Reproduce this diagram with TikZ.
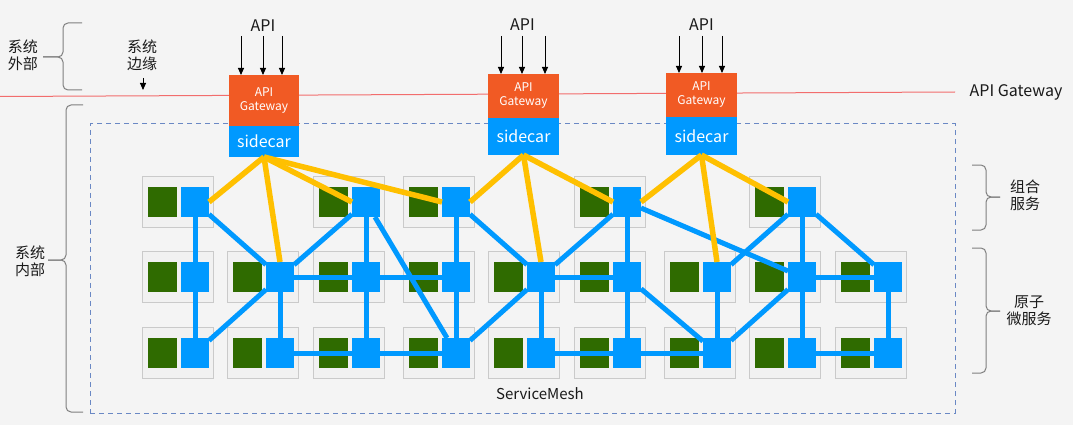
\documentclass[tikz,border=0pt]{standalone}
\usepackage{fontspec}
\setmainfont{Noto Sans CJK SC}
\usetikzlibrary{arrows.meta}
\definecolor{bgc}{HTML}{F4F4F4}
\definecolor{boxfill}{HTML}{F1F1F1}
\definecolor{boxline}{HTML}{CACACA}
\definecolor{svgreen}{HTML}{2F6B00}
\definecolor{svblue}{HTML}{0099FF}
\definecolor{gworange}{HTML}{F15A24}
\definecolor{linkyellow}{HTML}{FFC000}
\definecolor{gwred}{HTML}{F26D6D}
\definecolor{meshdash}{HTML}{6A88C4}
\definecolor{bracegray}{HTML}{7F7F7F}
\definecolor{textc}{HTML}{1A1A1A}
\begin{document}
\begin{tikzpicture}[x=1pt,y=-1pt,
  svcbox/.style={draw=boxline,fill=boxfill,line width=0.8pt,minimum width=71pt,minimum height=51pt,inner sep=0pt,outer sep=0pt},
  greensq/.style={fill=svgreen,minimum width=29pt,minimum height=30pt,inner sep=0pt,outer sep=0pt},
  bluesq/.style={fill=svblue,minimum width=28pt,minimum height=30pt,inner sep=0pt,outer sep=0pt},
  meshlink/.style={draw=svblue,line width=5pt},
  gwlink/.style={draw=linkyellow,line width=5.5pt},
  gwbox/.style={fill=gworange,text=white,inner sep=0pt,outer sep=0pt,align=center,font=\fontsize{12}{14}\selectfont},
  scbox/.style={fill=svblue,text=white,inner sep=0pt,outer sep=0pt,font=\fontsize{16}{18}\selectfont},
  apiarrow/.style={draw=black,line width=0.9pt,-{Triangle[length=7pt,width=6pt]}},
  lbl/.style={text=textc,align=center,inner sep=0pt,font=\fontsize{15}{17}\selectfont},
  bracestyle/.style={draw=bracegray,line width=1pt,rounded corners=5pt},
  dashbox/.style={draw=meshdash,line width=1pt,dash pattern=on 5pt off 4pt,inner sep=0pt},
  redline/.style={draw=gwred,line width=1pt}]

% background and bounding box
\fill[bgc] (0,0) rectangle (1073,425);
\useasboundingbox (0,0) rectangle (1073,425);

% service mesh area
\node[dashbox,minimum width=865pt,minimum height=289pt] (mesh) at (522.5,268.5) {};
\node[lbl] (meshlbl) at (540,394) {ServiceMesh};

% gateway boundary line
\coordinate (rl) at (0,96.5);
\coordinate (rr) at (955,92);
\draw[redline] (rl) -- (rr);
\node[lbl,font=\fontsize{16}{18}\selectfont] (gwlbl) at (1016,92) {API Gateway};

% services
\foreach \n/\x/\y in {T1/195/202,T3/366/202,T4/456/202,T6/627/202,T8/802/202,
  M1/195/277,M2/280/277,M3/366/277,M4/456/277,M5/541/277,M6/627/277,M7/717/277,M8/802/277,M9/888/277,
  B1/195/353,B2/280/353,B3/366/353,B4/456/353,B5/541/353,B6/627/353,B7/717/353,B8/802/353,B9/888/353}{
  \node[svcbox] (box\n) at (\x-17.5,\y) {};
  \node[greensq] (g\n) at (\x-33,\y) {};
  \node[bluesq] (\n) at (\x,\y) {};
}

% mesh links
\foreach \a/\b in {T1/M1,M1/B1,T1/M2,M2/B1,M2/M3,M2/B2,T3/M2,T3/M3,T3/B4,M3/B3,M3/M4,B2/B3,B3/B4,
  T4/M4,T4/M5,M4/B4,M5/B4,M5/M6,M5/B5,T6/M5,T6/M6,T6/M8,M6/B6,M6/B7,B5/B6,B6/B7,
  M7/B7,B7/M8,T8/M7,T8/M8,T8/M9,M8/M9,M8/B8,M9/B9,B8/B9}{
  \draw[meshlink] (\a) -- (\b);
}

% gateways
\node[gwbox,minimum width=70pt,minimum height=51pt] (gw1) at (264,100.5) {API\\Gateway};
\node[scbox,minimum width=70pt,minimum height=31pt] (sc1) at (264,141.5) {sidecar};
\node[gwbox,minimum width=71pt,minimum height=44pt] (gw2) at (523.5,96) {API\\Gateway};
\node[scbox,minimum width=71pt,minimum height=37pt] (sc2) at (523.5,136.5) {sidecar};
\node[gwbox,minimum width=71pt,minimum height=44pt] (gw3) at (701.5,95) {API\\Gateway};
\node[scbox,minimum width=71pt,minimum height=38pt] (sc3) at (701.5,136) {sidecar};

% sidecar links
\draw[gwlink] (sc1.south) -- (T1.east);
\draw[gwlink] (sc1.south) -- (M2.north);
\draw[gwlink] (sc1.south) -- (T3.west);
\draw[gwlink] (sc1.south) -- (T4.west);
\draw[gwlink] (sc2.south) -- (T4.east);
\draw[gwlink] (sc2.south) -- (M5.north);
\draw[gwlink] (sc2.south) -- (T6.west);
\draw[gwlink] (sc3.south) -- (T6.east);
\draw[gwlink] (sc3.south) -- (M7.north);
\draw[gwlink] (sc3.south) -- (T8.west);

% API inputs
\node[lbl,font=\fontsize{16}{18}\selectfont] (api1) at (263,26) {API};
\node[lbl,font=\fontsize{16}{18}\selectfont] (api2) at (522.5,25) {API};
\node[lbl,font=\fontsize{16}{18}\selectfont] (api3) at (701.5,25) {API};
\foreach \g/\xa/\xb/\xc in {1/241/263/282,2/501/522/545,3/679/702/722}{
  \coordinate (a\g a) at (\xa,36);
  \coordinate (a\g b) at (\xb,36);
  \coordinate (a\g c) at (\xc,36);
  \draw[apiarrow] (a\g a) -- (a\g a |- gw\g.north);
  \draw[apiarrow] (a\g b) -- (a\g b |- gw\g.north);
  \draw[apiarrow] (a\g c) -- (a\g c |- gw\g.north);
}

% left labels and braces
\node[lbl] (outside) at (23,55) {系统\\外部};
\draw[bracestyle] (82,23) -- (63,23) -- (63,57) -- (43,57);
\draw[bracestyle] (43,57) -- (63,57) -- (63,90) -- (82,90);

\node[lbl] (edge) at (142,55) {系统\\边缘};
\coordinate (edgetop) at (143,78);
\draw[apiarrow] (edgetop) -- ++(0,12);

\node[lbl] (inside) at (30,261) {系统\\内部};
\draw[bracestyle] (83,105) -- (66,105) -- (66,260) -- (48,260);
\draw[bracestyle] (48,260) -- (66,260) -- (66,412) -- (83,412);

% right labels and braces
\node[lbl] (combo) at (1025,195) {组合\\服务};
\draw[bracestyle] (972,165) -- (986,165) -- (986,197) -- (1000,197);
\draw[bracestyle] (1000,197) -- (986,197) -- (986,230) -- (972,230);

\node[lbl] (atomic) at (1029,311) {原子\\微服务};
\draw[bracestyle] (972,248) -- (986,248) -- (986,311) -- (1000,311);
\draw[bracestyle] (1000,311) -- (986,311) -- (986,373) -- (972,373);
\end{tikzpicture}
\end{document}
